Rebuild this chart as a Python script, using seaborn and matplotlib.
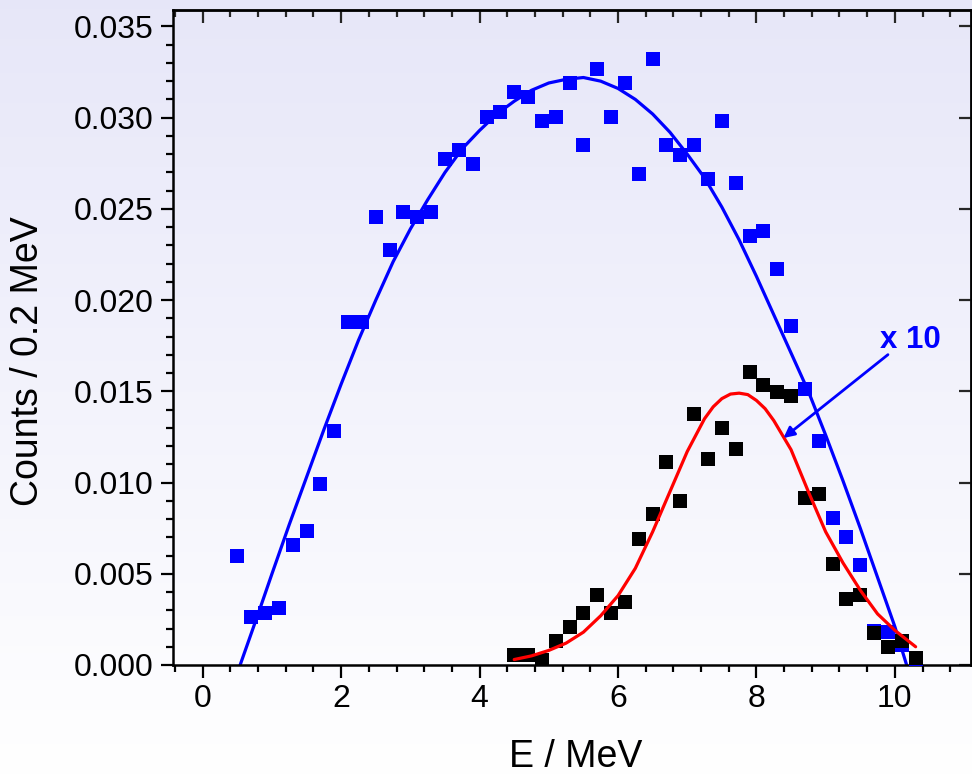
import numpy as np
import pandas as pd
import matplotlib
matplotlib.use("Agg")
import matplotlib.pyplot as plt
from matplotlib.ticker import MultipleLocator, FormatStrFormatter
import seaborn as sns

# ---- data ----
E_blue = [0.5, 0.7, 0.9, 1.1, 1.3, 1.5, 1.7, 1.9, 2.1, 2.3, 2.5, 2.7, 2.9, 3.1, 3.3,
          3.5, 3.7, 3.9, 4.1, 4.3, 4.5, 4.7, 4.9, 5.1, 5.3, 5.5, 5.7, 5.9, 6.1, 6.3,
          6.5, 6.7, 6.9, 7.1, 7.3, 7.5, 7.7, 7.9, 8.1, 8.3, 8.5, 8.7, 8.9, 9.1, 9.3,
          9.5, 9.7, 9.9, 10.1, 10.3]
counts_blue = [0.0060, 0.00262, 0.00287, 0.00315, 0.00655, 0.00732, 0.00992, 0.0128,
               0.0188, 0.0188, 0.02455, 0.02274, 0.02485, 0.02455, 0.02485, 0.02772,
               0.02821, 0.02746, 0.03006, 0.03031, 0.03138, 0.03112, 0.0298, 0.03006,
               0.03189, 0.0285, 0.03267, 0.03006, 0.03189, 0.02693, 0.0332, 0.0285,
               0.02797, 0.0285, 0.02666, 0.0298, 0.0264, 0.02351, 0.02378, 0.02169,
               0.01857, 0.01512, 0.0123, 0.00808, 0.00704, 0.00549, 0.00188, 0.0018,
               0.0011, 0.00013]

E_black = [4.5, 4.7, 4.9, 5.1, 5.3, 5.5, 5.7, 5.9, 6.1, 6.3, 6.5, 6.7, 6.9, 7.1, 7.3,
           7.5, 7.7, 7.9, 8.1, 8.3, 8.5, 8.7, 8.9, 9.1, 9.3, 9.5, 9.7, 9.9, 10.1, 10.3]
counts_black = [0.00055, 0.00055, 0.00027, 0.0013, 0.0021, 0.00287, 0.00384, 0.00287,
                0.00344, 0.0069, 0.00825, 0.0111, 0.0090, 0.01378, 0.01129, 0.0130,
                0.01186, 0.01606, 0.01533, 0.01495, 0.01475, 0.00918, 0.00937, 0.00554,
                0.00362, 0.00382, 0.00177, 0.00097, 0.00133, 0.00037]

# fitted curves, points
fit_blue_E = [0.54, 0.80, 1.00, 1.25, 1.50, 1.75, 2.00, 2.25, 2.50, 2.75, 3.00, 3.25,
              3.50, 3.75, 4.00, 4.25, 4.50, 4.75, 5.00, 5.25, 5.50, 5.75, 6.00, 6.25,
              6.50, 6.75, 7.00, 7.25, 7.50, 7.75, 8.00, 8.25, 8.50, 8.75, 9.00, 9.25,
              9.50, 9.75, 10.00, 10.17]
fit_blue_y = [0.0, 0.0028, 0.0050, 0.0077, 0.0103, 0.0129, 0.0154, 0.0178, 0.0200,
              0.0221, 0.0239, 0.0255, 0.0270, 0.0283, 0.0293, 0.0302, 0.0309, 0.0315,
              0.0319, 0.0321, 0.0322, 0.0320, 0.0316, 0.0310, 0.0302, 0.0292, 0.0280,
              0.0267, 0.0251, 0.0233, 0.0213, 0.0192, 0.0171, 0.0150, 0.0126, 0.0101,
              0.0075, 0.0048, 0.0021, 0.0]

fit_red_E = [4.50, 4.75, 5.00, 5.25, 5.50, 5.75, 6.00, 6.25, 6.50, 6.75, 7.00, 7.25,
             7.375, 7.50, 7.625, 7.75, 7.875, 8.00, 8.125, 8.25, 8.50, 8.75, 9.00,
             9.25, 9.50, 9.75, 10.00, 10.30]
fit_red_y = [0.0003, 0.0005, 0.0008, 0.0012, 0.0018, 0.0027, 0.0038, 0.0053, 0.0073,
             0.0095, 0.0117, 0.0135, 0.01415, 0.0146, 0.01485, 0.0149, 0.01482, 0.0145,
             0.01405, 0.0134, 0.0118, 0.0095, 0.0073, 0.0056, 0.0041, 0.0028, 0.0019,
             0.0010]

x_ticks = [0, 2, 4, 6, 8, 10]
y_ticks = [0.000, 0.005, 0.010, 0.015, 0.020, 0.025, 0.030, 0.035]

df_blue = pd.DataFrame({"E": E_blue, "counts": counts_blue})
df_black = pd.DataFrame({"E": E_black, "counts": counts_black})
df_fb = pd.DataFrame({"E": fit_blue_E, "y": fit_blue_y})
df_fr = pd.DataFrame({"E": fit_red_E, "y": fit_red_y})

sns.set_theme(style="ticks")
plt.rcParams["font.family"] = ["Liberation Sans", "DejaVu Sans"]

fig = plt.figure(figsize=(9.72, 7.77), dpi=100)

# background gradient
bg = fig.add_axes([0, 0, 1, 1], zorder=-10)
grad = np.linspace(0, 1, 256).reshape(-1, 1)
top = np.array([0.905, 0.905, 0.975])
bot = np.array([1.0, 1.0, 1.0])
img = top[None, None, :] * (1 - grad[:, :, None]) + bot[None, None, :] * grad[:, :, None]
bg.imshow(img, aspect="auto", extent=[0, 1, 0, 1], origin="upper")
bg.set_axis_off()

ax = fig.add_axes([173 / 972, 1 - 665 / 777, (971 - 173) / 972, (665 - 10) / 777])
ax.patch.set_alpha(0)

sns.lineplot(data=df_fb, x="E", y="y", ax=ax, color="#0000ff", lw=2.3, sort=False,
             estimator=None, zorder=2)
sns.lineplot(data=df_fr, x="E", y="y", ax=ax, color="#ff0000", lw=2.3, sort=False,
             estimator=None, zorder=4)
sns.scatterplot(data=df_blue, x="E", y="counts", ax=ax, marker="s", s=90,
                color="#0000ff", linewidth=0, zorder=3)
sns.scatterplot(data=df_black, x="E", y="counts", ax=ax, marker="s", s=90,
                color="black", linewidth=0, zorder=3.5)
for ln in ax.lines:
    ln.set_solid_joinstyle("round")
    ln.set_solid_capstyle("round")

ax.annotate("", xy=(8.39, 0.01244), xytext=(9.90, 0.01701),
            arrowprops=dict(arrowstyle="-|>", color="#0000ff", lw=2,
                            mutation_scale=16, shrinkA=0, shrinkB=0), zorder=5)
ax.text(10.23, 0.01781, "x 10", color="#0000ff", fontsize=22.5, fontweight="bold",
        ha="center", va="center", zorder=5)

ax.set_xlim(-0.43, 11.1)
ax.set_ylim(0, 0.0359)
ax.set_xticks(x_ticks)
ax.set_yticks(y_ticks)
ax.yaxis.set_major_formatter(FormatStrFormatter("%.3f"))
ax.xaxis.set_minor_locator(MultipleLocator(0.4))
ax.yaxis.set_minor_locator(MultipleLocator(0.001))
ax.tick_params(which="major", direction="out", length=9, width=1.6, labelsize=23,
               color="black", labelcolor="black", pad=5)
ax.tick_params(which="minor", direction="out", length=5, width=1.6, color="black")

for s in ax.spines.values():
    s.set_visible(True)
    s.set_linewidth(1.8)
    s.set_color("black")

# inward ticks on top and right
secx = ax.secondary_xaxis("top")
secx.set_xticks(x_ticks)
secx.xaxis.set_minor_locator(MultipleLocator(0.4))
secx.tick_params(which="major", direction="in", length=9, width=1.6, labeltop=False)
secx.tick_params(which="minor", direction="in", length=5, width=1.6)
secx.spines["top"].set_linewidth(1.8)
secy = ax.secondary_yaxis("right")
secy.set_yticks(y_ticks)
secy.yaxis.set_minor_locator(MultipleLocator(0.001))
secy.tick_params(which="major", direction="in", length=9, width=1.6, labelright=False)
secy.tick_params(which="minor", direction="in", length=0, width=1.6)
secy.spines["right"].set_linewidth(1.8)

ax.set_xlabel("E / MeV", fontsize=27, color="black")
ax.set_ylabel("Counts / 0.2 MeV", fontsize=27, color="black")
ax.xaxis.set_label_coords((576 - 173) / 798, (665 - 757) / 655)
ax.xaxis.label.set_va("center")
ax.yaxis.set_label_coords((28 - 173) / 798, (665 - 361) / 655)
ax.yaxis.label.set_va("center")

fig.savefig("out.png", dpi=100)
